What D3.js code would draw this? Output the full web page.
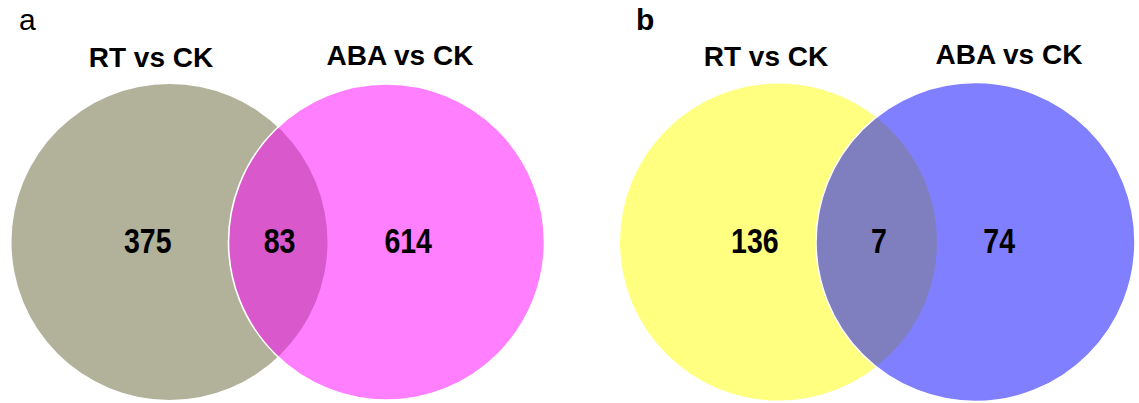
<!DOCTYPE html>
<html>
<head>
<meta charset="utf-8">
<script src="https://cdn.jsdelivr.net/npm/d3@7"></script>
<style>
  html, body { margin: 0; padding: 0; background: #fff; }
  svg { display: block; }
  text { font-family: Arial, "Liberation Sans", sans-serif; fill: #000; }
</style>
</head>
<body>
<svg id="chart" width="1139" height="403"></svg>
<script>
// Two-set Venn diagrams of differentially expressed genes
const panelLetters = ["a", "b"];
const setNames = ["RT vs CK", "ABA vs CK"];
const onlyLeft = [375, 136];   // RT vs CK only
const shared = [83, 7];        // in both comparisons
const onlyRight = [614, 74];   // ABA vs CK only

const svg = d3.select("#chart");

// panel geometry
const leftFill = ["#b2b29b", "#ffff80"];
const rightFill = ["#ff00ff", "#0000ff"];
const leftCx = [169.5, 778.5];
const rightCx = [386.5, 975.5];
const radius = [[158, 158], [158.5, 159.5]];
const cy = 242;

// x scale per panel: 0 → left circle centre, 1 → right circle centre
panelLetters.forEach((letter, i) => {
  const x = d3.scaleLinear().domain([0, 1]).range([leftCx[i], rightCx[i]]);
  const g = svg.append("g");

  g.append("circle")
    .attr("cx", x(0)).attr("cy", cy).attr("r", radius[i][0])
    .attr("fill", leftFill[i]);

  g.append("circle")
    .attr("cx", x(1)).attr("cy", cy).attr("r", radius[i][1])
    .attr("fill", rightFill[i]).attr("fill-opacity", 0.5)
    .attr("stroke", "#fff").attr("stroke-width", 1.6);

  // region counts (slightly condensed, tall bold digits)
  const counts = [
    { v: onlyLeft[i], t: i === 0 ? -0.1 : -0.12 },
    { v: shared[i], t: i === 0 ? 0.507 : 0.51 },
    { v: onlyRight[i], t: i === 0 ? 1.1 : 1.12 }
  ];
  g.selectAll("text.count").data(counts).join("text")
    .attr("class", "count")
    .attr("transform", d => `translate(${x(d.t)},253) scale(0.95,1.16)`)
    .attr("text-anchor", "middle")
    .attr("font-size", 30).attr("font-weight", "bold")
    .text(d => d.v);

  // set titles
  const titleX = i === 0 ? [151, 400] : [766, 1009];
  const titleY = i === 0 ? [67, 65] : [66, 64];
  g.selectAll("text.title").data(setNames).join("text")
    .attr("class", "title")
    .attr("x", (d, j) => titleX[j]).attr("y", (d, j) => titleY[j])
    .attr("text-anchor", "middle")
    .attr("font-size", 28).attr("font-weight", "bold")
    .text(d => d);

  // panel letter
  g.append("text")
    .attr("x", i === 0 ? 19 : 636).attr("y", 30)
    .attr("font-size", 30).attr("font-weight", i === 0 ? "normal" : "bold")
    .text(letter);
});
</script>
</body>
</html>
